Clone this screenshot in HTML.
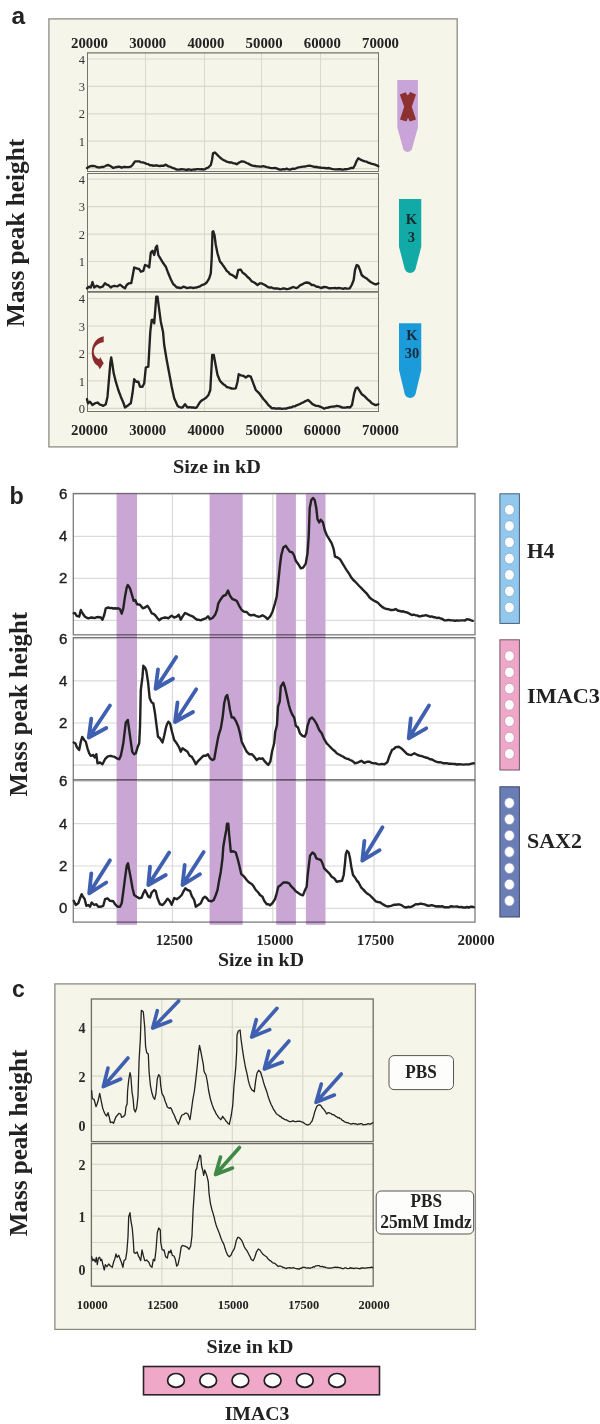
<!DOCTYPE html>
<html><head><meta charset="utf-8"><style>
html,body{margin:0;padding:0;background:#ffffff;}
svg{display:block;will-change:transform;}
</style></head><body>
<svg width="600" height="1424" viewBox="0 0 600 1424">
<rect width="600" height="1424" fill="#ffffff"/>
<rect x="48.9" y="18.9" width="408.3" height="428" fill="#f5f5e9" stroke="#8c8c84" stroke-width="1.3"/>
<text x="11.5" y="24.2" font-family="Liberation Sans, sans-serif" font-size="24.5" font-weight="bold" text-anchor="start" fill="#222222" >a</text>
<text x="89.5" y="47.5" font-family="Liberation Serif, serif" font-size="15" font-weight="bold" text-anchor="middle" fill="#222222" textLength="37" lengthAdjust="spacingAndGlyphs" >20000</text>
<text x="89.5" y="434.5" font-family="Liberation Serif, serif" font-size="15" font-weight="bold" text-anchor="middle" fill="#222222" textLength="37" lengthAdjust="spacingAndGlyphs" >20000</text>
<text x="147.7" y="47.5" font-family="Liberation Serif, serif" font-size="15" font-weight="bold" text-anchor="middle" fill="#222222" textLength="37" lengthAdjust="spacingAndGlyphs" >30000</text>
<text x="147.7" y="434.5" font-family="Liberation Serif, serif" font-size="15" font-weight="bold" text-anchor="middle" fill="#222222" textLength="37" lengthAdjust="spacingAndGlyphs" >30000</text>
<text x="205.9" y="47.5" font-family="Liberation Serif, serif" font-size="15" font-weight="bold" text-anchor="middle" fill="#222222" textLength="37" lengthAdjust="spacingAndGlyphs" >40000</text>
<text x="205.9" y="434.5" font-family="Liberation Serif, serif" font-size="15" font-weight="bold" text-anchor="middle" fill="#222222" textLength="37" lengthAdjust="spacingAndGlyphs" >40000</text>
<text x="264.1" y="47.5" font-family="Liberation Serif, serif" font-size="15" font-weight="bold" text-anchor="middle" fill="#222222" textLength="37" lengthAdjust="spacingAndGlyphs" >50000</text>
<text x="264.1" y="434.5" font-family="Liberation Serif, serif" font-size="15" font-weight="bold" text-anchor="middle" fill="#222222" textLength="37" lengthAdjust="spacingAndGlyphs" >50000</text>
<text x="322.3" y="47.5" font-family="Liberation Serif, serif" font-size="15" font-weight="bold" text-anchor="middle" fill="#222222" textLength="37" lengthAdjust="spacingAndGlyphs" >60000</text>
<text x="322.3" y="434.5" font-family="Liberation Serif, serif" font-size="15" font-weight="bold" text-anchor="middle" fill="#222222" textLength="37" lengthAdjust="spacingAndGlyphs" >60000</text>
<text x="380.5" y="47.5" font-family="Liberation Serif, serif" font-size="15" font-weight="bold" text-anchor="middle" fill="#222222" textLength="37" lengthAdjust="spacingAndGlyphs" >70000</text>
<text x="380.5" y="434.5" font-family="Liberation Serif, serif" font-size="15" font-weight="bold" text-anchor="middle" fill="#222222" textLength="37" lengthAdjust="spacingAndGlyphs" >70000</text>
<line x1="145.5" y1="52.9" x2="145.5" y2="171.5" stroke="#d9d9cc" stroke-width="1"/>
<line x1="204.5" y1="52.9" x2="204.5" y2="171.5" stroke="#d9d9cc" stroke-width="1"/>
<line x1="261.5" y1="52.9" x2="261.5" y2="171.5" stroke="#d9d9cc" stroke-width="1"/>
<line x1="320.5" y1="52.9" x2="320.5" y2="171.5" stroke="#d9d9cc" stroke-width="1"/>
<line x1="87.5" y1="168.6" x2="378.5" y2="168.6" stroke="#d9d9cc" stroke-width="1.2"/>
<line x1="87.5" y1="141.2" x2="378.5" y2="141.2" stroke="#d9d9cc" stroke-width="1.2"/>
<text x="85" y="145.79999999999998" font-family="Liberation Serif, serif" font-size="12.5" font-weight="normal" text-anchor="end" fill="#333333" >1</text>
<line x1="87.5" y1="113.8" x2="378.5" y2="113.8" stroke="#d9d9cc" stroke-width="1.2"/>
<text x="85" y="118.39999999999999" font-family="Liberation Serif, serif" font-size="12.5" font-weight="normal" text-anchor="end" fill="#333333" >2</text>
<line x1="87.5" y1="86.4" x2="378.5" y2="86.4" stroke="#d9d9cc" stroke-width="1.2"/>
<text x="85" y="91.0" font-family="Liberation Serif, serif" font-size="12.5" font-weight="normal" text-anchor="end" fill="#333333" >3</text>
<line x1="87.5" y1="59.0" x2="378.5" y2="59.0" stroke="#d9d9cc" stroke-width="1.2"/>
<text x="85" y="63.6" font-family="Liberation Serif, serif" font-size="12.5" font-weight="normal" text-anchor="end" fill="#333333" >4</text>
<line x1="87.5" y1="52.9" x2="87.5" y2="171.5" stroke="#74746c" stroke-width="1"/>
<line x1="378.5" y1="52.9" x2="378.5" y2="171.5" stroke="#74746c" stroke-width="1"/>
<line x1="87.0" y1="52.9" x2="379.0" y2="52.9" stroke="#74746c" stroke-width="1.2"/>
<line x1="87.0" y1="171.5" x2="379.0" y2="171.5" stroke="#74746c" stroke-width="1.2"/>
<line x1="145.5" y1="173.5" x2="145.5" y2="291.5" stroke="#d9d9cc" stroke-width="1"/>
<line x1="204.5" y1="173.5" x2="204.5" y2="291.5" stroke="#d9d9cc" stroke-width="1"/>
<line x1="261.5" y1="173.5" x2="261.5" y2="291.5" stroke="#d9d9cc" stroke-width="1"/>
<line x1="320.5" y1="173.5" x2="320.5" y2="291.5" stroke="#d9d9cc" stroke-width="1"/>
<line x1="87.5" y1="289.0" x2="378.5" y2="289.0" stroke="#d9d9cc" stroke-width="1.2"/>
<line x1="87.5" y1="261.5" x2="378.5" y2="261.5" stroke="#d9d9cc" stroke-width="1.2"/>
<text x="85" y="266.125" font-family="Liberation Serif, serif" font-size="12.5" font-weight="normal" text-anchor="end" fill="#333333" >1</text>
<line x1="87.5" y1="234.1" x2="378.5" y2="234.1" stroke="#d9d9cc" stroke-width="1.2"/>
<text x="85" y="238.65" font-family="Liberation Serif, serif" font-size="12.5" font-weight="normal" text-anchor="end" fill="#333333" >2</text>
<line x1="87.5" y1="206.6" x2="378.5" y2="206.6" stroke="#d9d9cc" stroke-width="1.2"/>
<text x="85" y="211.17499999999998" font-family="Liberation Serif, serif" font-size="12.5" font-weight="normal" text-anchor="end" fill="#333333" >3</text>
<line x1="87.5" y1="179.1" x2="378.5" y2="179.1" stroke="#d9d9cc" stroke-width="1.2"/>
<text x="85" y="183.7" font-family="Liberation Serif, serif" font-size="12.5" font-weight="normal" text-anchor="end" fill="#333333" >4</text>
<line x1="87.5" y1="173.5" x2="87.5" y2="291.5" stroke="#74746c" stroke-width="1"/>
<line x1="378.5" y1="173.5" x2="378.5" y2="291.5" stroke="#74746c" stroke-width="1"/>
<line x1="87.0" y1="173.5" x2="379.0" y2="173.5" stroke="#74746c" stroke-width="1.2"/>
<line x1="87.0" y1="291.5" x2="379.0" y2="291.5" stroke="#74746c" stroke-width="1.2"/>
<line x1="145.5" y1="292.1" x2="145.5" y2="411.5" stroke="#d9d9cc" stroke-width="1"/>
<line x1="204.5" y1="292.1" x2="204.5" y2="411.5" stroke="#d9d9cc" stroke-width="1"/>
<line x1="261.5" y1="292.1" x2="261.5" y2="411.5" stroke="#d9d9cc" stroke-width="1"/>
<line x1="320.5" y1="292.1" x2="320.5" y2="411.5" stroke="#d9d9cc" stroke-width="1"/>
<line x1="87.5" y1="408.4" x2="378.5" y2="408.4" stroke="#d9d9cc" stroke-width="1.2"/>
<text x="85" y="413.0" font-family="Liberation Serif, serif" font-size="12.5" font-weight="normal" text-anchor="end" fill="#333333" >0</text>
<line x1="87.5" y1="380.9" x2="378.5" y2="380.9" stroke="#d9d9cc" stroke-width="1.2"/>
<text x="85" y="385.525" font-family="Liberation Serif, serif" font-size="12.5" font-weight="normal" text-anchor="end" fill="#333333" >1</text>
<line x1="87.5" y1="353.4" x2="378.5" y2="353.4" stroke="#d9d9cc" stroke-width="1.2"/>
<text x="85" y="358.05" font-family="Liberation Serif, serif" font-size="12.5" font-weight="normal" text-anchor="end" fill="#333333" >2</text>
<line x1="87.5" y1="326.0" x2="378.5" y2="326.0" stroke="#d9d9cc" stroke-width="1.2"/>
<text x="85" y="330.57500000000005" font-family="Liberation Serif, serif" font-size="12.5" font-weight="normal" text-anchor="end" fill="#333333" >3</text>
<line x1="87.5" y1="298.5" x2="378.5" y2="298.5" stroke="#d9d9cc" stroke-width="1.2"/>
<text x="85" y="303.1" font-family="Liberation Serif, serif" font-size="12.5" font-weight="normal" text-anchor="end" fill="#333333" >4</text>
<line x1="87.5" y1="292.1" x2="87.5" y2="411.5" stroke="#74746c" stroke-width="1"/>
<line x1="378.5" y1="292.1" x2="378.5" y2="411.5" stroke="#74746c" stroke-width="1"/>
<line x1="87.0" y1="292.1" x2="379.0" y2="292.1" stroke="#74746c" stroke-width="1.2"/>
<line x1="87.0" y1="411.5" x2="379.0" y2="411.5" stroke="#74746c" stroke-width="1.2"/>
<text x="0" y="0" transform="translate(23.6,232.85) rotate(-90)" font-family="Liberation Serif, serif" font-size="26" font-weight="bold" text-anchor="middle" fill="#222222" textLength="188.09999999999997" lengthAdjust="spacingAndGlyphs">Mass peak height</text>
<text x="217" y="473" font-family="Liberation Serif, serif" font-size="19" font-weight="bold" text-anchor="middle" fill="#222222" textLength="88" lengthAdjust="spacingAndGlyphs" >Size in kD</text>
<path d="M397.3,80 L417.9,80 L417.9,127.5 L412.40000000000003,147.2 A4.8,4.8 0 0 1 402.8,147.2 L397.3,127.5 Z" fill="#c9a4d8"/>
<path d="M399.8,94.4 L405.6,92.2 L407.8,95.6 L410.2,92 L416,94.4 L411.8,106.8 L416,119.4 L409.8,121.4 L408,117.8 L406.4,121.4 L400,119.6 L404.2,106.8 Z" fill="#8c3030"/>
<path d="M399,199 L421.25,199 L421.25,246.7 L415.925,267.2 A5.8,5.8 0 0 1 404.325,267.2 L399,246.7 Z" fill="#12aaa6"/>
<text x="411.5" y="223.8" font-family="Liberation Serif, serif" font-size="14.5" font-weight="bold" text-anchor="middle" fill="#1a2a2a" >K</text>
<text x="411.3" y="242" font-family="Liberation Serif, serif" font-size="14.5" font-weight="bold" text-anchor="middle" fill="#1a2a2a" >3</text>
<path d="M399,323.3 L421.25,323.3 L421.25,370 L415.925,392.2 A5.8,5.8 0 0 1 404.325,392.2 L399,370 Z" fill="#1b9bd9"/>
<text x="412" y="339.6" font-family="Liberation Serif, serif" font-size="14.5" font-weight="bold" text-anchor="middle" fill="#1a2a3a" >K</text>
<text x="412" y="357.9" font-family="Liberation Serif, serif" font-size="14.5" font-weight="bold" text-anchor="middle" fill="#1a2a3a" >30</text>
<path d="M103.7,336.3 L103.7,342.2 C99,342.6 94.5,345.5 93.8,350.5 C93.3,354.8 96,357.8 99.3,359.3 L100.2,357 L103.7,363.3 L99.8,369.2 L98,366 C94,364 91.8,358.5 91.8,352.5 C91.8,343.5 97,337.5 103.7,336.3 Z" fill="#8b2b2b"/>
<text x="9.6" y="504.3" font-family="Liberation Sans, sans-serif" font-size="23.3" font-weight="bold" text-anchor="start" fill="#222222" >b</text>
<line x1="172.5" y1="493.5" x2="172.5" y2="634.8" stroke="#dadada" stroke-width="1.2"/>
<line x1="272.8" y1="493.5" x2="272.8" y2="634.8" stroke="#dadada" stroke-width="1.2"/>
<line x1="374.0" y1="493.5" x2="374.0" y2="634.8" stroke="#dadada" stroke-width="1.2"/>
<line x1="73.3" y1="620.4" x2="475.0" y2="620.4" stroke="#dadada" stroke-width="1.2"/>
<line x1="73.3" y1="578.4" x2="475.0" y2="578.4" stroke="#dadada" stroke-width="1.2"/>
<text x="67.4" y="583.4" font-family="Liberation Sans, sans-serif" font-size="15" font-weight="normal" text-anchor="end" fill="#1e1e1e" stroke="#1e1e1e" stroke-width="0.4">2</text>
<line x1="73.3" y1="536.4" x2="475.0" y2="536.4" stroke="#dadada" stroke-width="1.2"/>
<text x="67.4" y="541.4" font-family="Liberation Sans, sans-serif" font-size="15" font-weight="normal" text-anchor="end" fill="#1e1e1e" stroke="#1e1e1e" stroke-width="0.4">4</text>
<line x1="73.3" y1="494.4" x2="475.0" y2="494.4" stroke="#dadada" stroke-width="1.2"/>
<text x="67.4" y="499.4" font-family="Liberation Sans, sans-serif" font-size="15" font-weight="normal" text-anchor="end" fill="#1e1e1e" stroke="#1e1e1e" stroke-width="0.4">6</text>
<line x1="172.5" y1="637.6" x2="172.5" y2="779.8" stroke="#dadada" stroke-width="1.2"/>
<line x1="272.8" y1="637.6" x2="272.8" y2="779.8" stroke="#dadada" stroke-width="1.2"/>
<line x1="374.0" y1="637.6" x2="374.0" y2="779.8" stroke="#dadada" stroke-width="1.2"/>
<line x1="73.3" y1="765.2" x2="475.0" y2="765.2" stroke="#dadada" stroke-width="1.2"/>
<line x1="73.3" y1="723.0" x2="475.0" y2="723.0" stroke="#dadada" stroke-width="1.2"/>
<text x="67.4" y="728.0" font-family="Liberation Sans, sans-serif" font-size="15" font-weight="normal" text-anchor="end" fill="#1e1e1e" stroke="#1e1e1e" stroke-width="0.4">2</text>
<line x1="73.3" y1="680.8" x2="475.0" y2="680.8" stroke="#dadada" stroke-width="1.2"/>
<text x="67.4" y="685.8000000000001" font-family="Liberation Sans, sans-serif" font-size="15" font-weight="normal" text-anchor="end" fill="#1e1e1e" stroke="#1e1e1e" stroke-width="0.4">4</text>
<line x1="73.3" y1="638.6" x2="475.0" y2="638.6" stroke="#dadada" stroke-width="1.2"/>
<text x="67.4" y="643.6" font-family="Liberation Sans, sans-serif" font-size="15" font-weight="normal" text-anchor="end" fill="#1e1e1e" stroke="#1e1e1e" stroke-width="0.4">6</text>
<line x1="172.5" y1="779.8" x2="172.5" y2="922.1" stroke="#dadada" stroke-width="1.2"/>
<line x1="272.8" y1="779.8" x2="272.8" y2="922.1" stroke="#dadada" stroke-width="1.2"/>
<line x1="374.0" y1="779.8" x2="374.0" y2="922.1" stroke="#dadada" stroke-width="1.2"/>
<line x1="73.3" y1="908.3" x2="475.0" y2="908.3" stroke="#dadada" stroke-width="1.2"/>
<text x="67.4" y="913.3" font-family="Liberation Sans, sans-serif" font-size="15" font-weight="normal" text-anchor="end" fill="#1e1e1e" stroke="#1e1e1e" stroke-width="0.4">0</text>
<line x1="73.3" y1="866.0" x2="475.0" y2="866.0" stroke="#dadada" stroke-width="1.2"/>
<text x="67.4" y="871.0" font-family="Liberation Sans, sans-serif" font-size="15" font-weight="normal" text-anchor="end" fill="#1e1e1e" stroke="#1e1e1e" stroke-width="0.4">2</text>
<line x1="73.3" y1="823.7" x2="475.0" y2="823.7" stroke="#dadada" stroke-width="1.2"/>
<text x="67.4" y="828.6999999999999" font-family="Liberation Sans, sans-serif" font-size="15" font-weight="normal" text-anchor="end" fill="#1e1e1e" stroke="#1e1e1e" stroke-width="0.4">4</text>
<line x1="73.3" y1="781.4" x2="475.0" y2="781.4" stroke="#dadada" stroke-width="1.2"/>
<text x="67.4" y="786.4" font-family="Liberation Sans, sans-serif" font-size="15" font-weight="normal" text-anchor="end" fill="#1e1e1e" stroke="#1e1e1e" stroke-width="0.4">6</text>
<rect x="116.6" y="493.5" width="20.400000000000006" height="431.3" fill="#c9a6d3"/>
<rect x="209.6" y="493.5" width="33.099999999999994" height="431.3" fill="#c9a6d3"/>
<rect x="276.2" y="493.5" width="19.69999999999999" height="431.3" fill="#c9a6d3"/>
<rect x="305.9" y="493.5" width="19.600000000000023" height="431.3" fill="#c9a6d3"/>
<g style="mix-blend-mode:multiply">
<rect x="73.3" y="493.5" width="401.7" height="141.29999999999995" fill="none" stroke="#7c7c7c" stroke-width="1.3"/>
<rect x="73.3" y="637.6" width="401.7" height="142.19999999999993" fill="none" stroke="#7c7c7c" stroke-width="1.3"/>
<rect x="73.3" y="779.8" width="401.7" height="142.30000000000007" fill="none" stroke="#7c7c7c" stroke-width="1.3"/>
</g>
<text x="174.3" y="944.8" font-family="Liberation Serif, serif" font-size="15" font-weight="bold" text-anchor="middle" fill="#222222" textLength="37.3" lengthAdjust="spacingAndGlyphs" >12500</text>
<text x="274.9" y="944.8" font-family="Liberation Serif, serif" font-size="15" font-weight="bold" text-anchor="middle" fill="#222222" textLength="37.3" lengthAdjust="spacingAndGlyphs" >15000</text>
<text x="375.49999999999994" y="944.8" font-family="Liberation Serif, serif" font-size="15" font-weight="bold" text-anchor="middle" fill="#222222" textLength="37.3" lengthAdjust="spacingAndGlyphs" >17500</text>
<text x="476.09999999999997" y="944.8" font-family="Liberation Serif, serif" font-size="15" font-weight="bold" text-anchor="middle" fill="#222222" textLength="37.3" lengthAdjust="spacingAndGlyphs" >20000</text>
<text x="0" y="0" transform="translate(26.5,704.25) rotate(-90)" font-family="Liberation Serif, serif" font-size="26" font-weight="bold" text-anchor="middle" fill="#222222" textLength="184.5" lengthAdjust="spacingAndGlyphs">Mass peak height</text>
<text x="261" y="966" font-family="Liberation Serif, serif" font-size="19" font-weight="bold" text-anchor="middle" fill="#222222" textLength="86" lengthAdjust="spacingAndGlyphs" >Size in kD</text>
<rect x="499.9" y="493.8" width="19.5" height="129.59999999999997" fill="#92c8ee" stroke="#44607a" stroke-width="1"/>
<ellipse cx="509.4" cy="509.7" rx="4.9" ry="5.3" fill="#ffffff" stroke="#7aa6c8" stroke-width="0.7"/>
<ellipse cx="509.4" cy="526.0" rx="4.9" ry="5.3" fill="#ffffff" stroke="#7aa6c8" stroke-width="0.7"/>
<ellipse cx="509.4" cy="542.3" rx="4.9" ry="5.3" fill="#ffffff" stroke="#7aa6c8" stroke-width="0.7"/>
<ellipse cx="509.4" cy="558.6" rx="4.9" ry="5.3" fill="#ffffff" stroke="#7aa6c8" stroke-width="0.7"/>
<ellipse cx="509.4" cy="574.9" rx="4.9" ry="5.3" fill="#ffffff" stroke="#7aa6c8" stroke-width="0.7"/>
<ellipse cx="509.4" cy="591.2" rx="4.9" ry="5.3" fill="#ffffff" stroke="#7aa6c8" stroke-width="0.7"/>
<ellipse cx="509.4" cy="607.5" rx="4.9" ry="5.3" fill="#ffffff" stroke="#7aa6c8" stroke-width="0.7"/>
<rect x="499.9" y="639.8" width="19.5" height="130.20000000000005" fill="#efa7c9" stroke="#74556a" stroke-width="1"/>
<ellipse cx="509.4" cy="656.0" rx="4.9" ry="5.3" fill="#ffffff" stroke="#c48aa6" stroke-width="0.7"/>
<ellipse cx="509.4" cy="672.3" rx="4.9" ry="5.3" fill="#ffffff" stroke="#c48aa6" stroke-width="0.7"/>
<ellipse cx="509.4" cy="688.6" rx="4.9" ry="5.3" fill="#ffffff" stroke="#c48aa6" stroke-width="0.7"/>
<ellipse cx="509.4" cy="704.9" rx="4.9" ry="5.3" fill="#ffffff" stroke="#c48aa6" stroke-width="0.7"/>
<ellipse cx="509.4" cy="721.2" rx="4.9" ry="5.3" fill="#ffffff" stroke="#c48aa6" stroke-width="0.7"/>
<ellipse cx="509.4" cy="737.5" rx="4.9" ry="5.3" fill="#ffffff" stroke="#c48aa6" stroke-width="0.7"/>
<ellipse cx="509.4" cy="753.8" rx="4.9" ry="5.3" fill="#ffffff" stroke="#c48aa6" stroke-width="0.7"/>
<rect x="499.9" y="786.8" width="19.5" height="130.20000000000005" fill="#6a7db4" stroke="#3d4a6a" stroke-width="1"/>
<ellipse cx="509.4" cy="803.0" rx="4.9" ry="5.3" fill="#ffffff" stroke="#8090c0" stroke-width="0.7"/>
<ellipse cx="509.4" cy="819.3" rx="4.9" ry="5.3" fill="#ffffff" stroke="#8090c0" stroke-width="0.7"/>
<ellipse cx="509.4" cy="835.6" rx="4.9" ry="5.3" fill="#ffffff" stroke="#8090c0" stroke-width="0.7"/>
<ellipse cx="509.4" cy="851.9" rx="4.9" ry="5.3" fill="#ffffff" stroke="#8090c0" stroke-width="0.7"/>
<ellipse cx="509.4" cy="868.2" rx="4.9" ry="5.3" fill="#ffffff" stroke="#8090c0" stroke-width="0.7"/>
<ellipse cx="509.4" cy="884.5" rx="4.9" ry="5.3" fill="#ffffff" stroke="#8090c0" stroke-width="0.7"/>
<ellipse cx="509.4" cy="900.8" rx="4.9" ry="5.3" fill="#ffffff" stroke="#8090c0" stroke-width="0.7"/>
<text x="527" y="557.6" font-family="Liberation Serif, serif" font-size="21" font-weight="bold" text-anchor="start" fill="#222222" textLength="27.4" lengthAdjust="spacingAndGlyphs" >H4</text>
<text x="527" y="703" font-family="Liberation Serif, serif" font-size="21" font-weight="bold" text-anchor="start" fill="#222222" textLength="73" lengthAdjust="spacingAndGlyphs" >IMAC3</text>
<text x="527" y="848" font-family="Liberation Serif, serif" font-size="21" font-weight="bold" text-anchor="start" fill="#222222" textLength="55" lengthAdjust="spacingAndGlyphs" >SAX2</text>
<text x="12" y="997.4" font-family="Liberation Sans, sans-serif" font-size="23" font-weight="bold" text-anchor="start" fill="#222222" >c</text>
<rect x="54.9" y="983.9" width="420.5" height="345.5" fill="#f5f5e9" stroke="#8c8c84" stroke-width="1.3"/>
<line x1="161.85" y1="999" x2="161.85" y2="1141.6" stroke="#d9d9cc" stroke-width="1.2"/>
<line x1="232.29999999999998" y1="999" x2="232.29999999999998" y2="1141.6" stroke="#d9d9cc" stroke-width="1.2"/>
<line x1="302.75" y1="999" x2="302.75" y2="1141.6" stroke="#d9d9cc" stroke-width="1.2"/>
<line x1="91.4" y1="1125.4" x2="373.2" y2="1125.4" stroke="#d9d9cc" stroke-width="1.2"/>
<text x="85.6" y="1131.4" font-family="Liberation Serif, serif" font-size="14" font-weight="bold" text-anchor="end" fill="#2a2a2a" >0</text>
<line x1="91.4" y1="1076.2" x2="373.2" y2="1076.2" stroke="#d9d9cc" stroke-width="1.2"/>
<text x="85.6" y="1082.2" font-family="Liberation Serif, serif" font-size="14" font-weight="bold" text-anchor="end" fill="#2a2a2a" >2</text>
<line x1="91.4" y1="1027.0" x2="373.2" y2="1027.0" stroke="#d9d9cc" stroke-width="1.2"/>
<text x="85.6" y="1033.0" font-family="Liberation Serif, serif" font-size="14" font-weight="bold" text-anchor="end" fill="#2a2a2a" >4</text>
<rect x="91.4" y="999" width="281.79999999999995" height="142.5999999999999" fill="none" stroke="#6e6e66" stroke-width="1.3"/>
<line x1="161.85" y1="1143.6" x2="161.85" y2="1286.2" stroke="#d9d9cc" stroke-width="1.2"/>
<line x1="232.29999999999998" y1="1143.6" x2="232.29999999999998" y2="1286.2" stroke="#d9d9cc" stroke-width="1.2"/>
<line x1="302.75" y1="1143.6" x2="302.75" y2="1286.2" stroke="#d9d9cc" stroke-width="1.2"/>
<line x1="91.4" y1="1268.7" x2="373.2" y2="1268.7" stroke="#d9d9cc" stroke-width="1.2"/>
<text x="85.6" y="1274.7" font-family="Liberation Serif, serif" font-size="14" font-weight="bold" text-anchor="end" fill="#2a2a2a" >0</text>
<line x1="91.4" y1="1242.5" x2="373.2" y2="1242.5" stroke="#d9d9cc" stroke-width="1.2"/>
<line x1="91.4" y1="1216.2" x2="373.2" y2="1216.2" stroke="#d9d9cc" stroke-width="1.2"/>
<text x="85.6" y="1222.2" font-family="Liberation Serif, serif" font-size="14" font-weight="bold" text-anchor="end" fill="#2a2a2a" >1</text>
<line x1="91.4" y1="1190.5" x2="373.2" y2="1190.5" stroke="#d9d9cc" stroke-width="1.2"/>
<line x1="91.4" y1="1164.4" x2="373.2" y2="1164.4" stroke="#d9d9cc" stroke-width="1.2"/>
<text x="85.6" y="1170.4" font-family="Liberation Serif, serif" font-size="14" font-weight="bold" text-anchor="end" fill="#2a2a2a" >2</text>
<rect x="91.4" y="1143.6" width="281.79999999999995" height="142.60000000000014" fill="none" stroke="#6e6e66" stroke-width="1.3"/>
<text x="92.30000000000001" y="1309" font-family="Liberation Serif, serif" font-size="12.5" font-weight="bold" text-anchor="middle" fill="#222222" textLength="31" lengthAdjust="spacingAndGlyphs" >10000</text>
<text x="162.75" y="1309" font-family="Liberation Serif, serif" font-size="12.5" font-weight="bold" text-anchor="middle" fill="#222222" textLength="31" lengthAdjust="spacingAndGlyphs" >12500</text>
<text x="233.2" y="1309" font-family="Liberation Serif, serif" font-size="12.5" font-weight="bold" text-anchor="middle" fill="#222222" textLength="31" lengthAdjust="spacingAndGlyphs" >15000</text>
<text x="303.65" y="1309" font-family="Liberation Serif, serif" font-size="12.5" font-weight="bold" text-anchor="middle" fill="#222222" textLength="31" lengthAdjust="spacingAndGlyphs" >17500</text>
<text x="374.0999999999999" y="1309" font-family="Liberation Serif, serif" font-size="12.5" font-weight="bold" text-anchor="middle" fill="#222222" textLength="31" lengthAdjust="spacingAndGlyphs" >20000</text>
<text x="0" y="0" transform="translate(26.8,1142.9) rotate(-90)" font-family="Liberation Serif, serif" font-size="26" font-weight="bold" text-anchor="middle" fill="#222222" textLength="186.60000000000014" lengthAdjust="spacingAndGlyphs">Mass peak height</text>
<rect x="389" y="1055.6" width="64.5" height="34" rx="5" fill="#fdfdfb" stroke="#55554f" stroke-width="1"/>
<text x="421" y="1078" font-family="Liberation Serif, serif" font-size="18" font-weight="bold" text-anchor="middle" fill="#222222" textLength="31.5" lengthAdjust="spacingAndGlyphs" >PBS</text>
<rect x="376.2" y="1191" width="97.5" height="43" rx="5" fill="#fdfdfb" stroke="#55554f" stroke-width="1"/>
<text x="426.3" y="1207" font-family="Liberation Serif, serif" font-size="18" font-weight="bold" text-anchor="middle" fill="#222222" textLength="31.5" lengthAdjust="spacingAndGlyphs" >PBS</text>
<text x="426" y="1228" font-family="Liberation Serif, serif" font-size="18" font-weight="bold" text-anchor="middle" fill="#222222" textLength="91.7" lengthAdjust="spacingAndGlyphs" >25mM Imdz</text>
<text x="250" y="1353.3" font-family="Liberation Serif, serif" font-size="19" font-weight="bold" text-anchor="middle" fill="#222222" textLength="86.8" lengthAdjust="spacingAndGlyphs" >Size in kD</text>
<rect x="143.5" y="1366.5" width="236" height="28.3" fill="#f0a8c8" stroke="#2a2226" stroke-width="1.6"/>
<ellipse cx="176.0" cy="1380.4" rx="8.4" ry="6.9" fill="#ffffff" stroke="#1e1e1e" stroke-width="1.7"/>
<ellipse cx="208.2" cy="1380.4" rx="8.4" ry="6.9" fill="#ffffff" stroke="#1e1e1e" stroke-width="1.7"/>
<ellipse cx="240.4" cy="1380.4" rx="8.4" ry="6.9" fill="#ffffff" stroke="#1e1e1e" stroke-width="1.7"/>
<ellipse cx="272.6" cy="1380.4" rx="8.4" ry="6.9" fill="#ffffff" stroke="#1e1e1e" stroke-width="1.7"/>
<ellipse cx="304.8" cy="1380.4" rx="8.4" ry="6.9" fill="#ffffff" stroke="#1e1e1e" stroke-width="1.7"/>
<ellipse cx="337.0" cy="1380.4" rx="8.4" ry="6.9" fill="#ffffff" stroke="#1e1e1e" stroke-width="1.7"/>
<text x="257" y="1419.8" font-family="Liberation Serif, serif" font-size="19" font-weight="bold" text-anchor="middle" fill="#222222" textLength="64.7" lengthAdjust="spacingAndGlyphs" >IMAC3</text>
<polyline points="87.0,168.0 90.0,166.3 91.7,166.0 93.3,166.0 95.0,166.2 96.7,167.0 98.3,167.4 100.0,167.5 101.7,166.9 103.3,167.0 105.0,166.2 106.7,165.3 108.3,165.0 110.8,166.3 113.3,168.0 115.0,167.4 116.7,167.0 119.2,166.7 121.7,167.7 123.3,167.0 125.0,167.0 126.7,167.1 128.3,167.2 130.8,166.7 132.5,165.0 135.0,161.3 137.5,161.3 139.2,161.3 140.8,162.2 143.3,162.5 145.0,163.1 146.7,163.8 148.3,164.2 150.0,165.3 151.7,165.2 153.3,165.8 155.0,165.5 156.7,165.3 158.3,165.9 160.0,166.0 161.7,165.6 163.3,165.8 165.8,164.7 168.3,166.3 170.0,166.7 171.7,167.5 173.3,168.2 175.0,168.7 176.7,169.6 178.3,169.7 180.0,169.5 181.7,169.2 183.3,169.4 185.0,169.7 186.7,170.1 188.3,169.3 190.0,169.7 191.7,170.0 193.3,169.5 195.0,169.7 196.7,169.2 198.3,169.1 200.0,169.3 201.7,169.1 203.3,169.5 205.0,169.2 206.7,168.1 208.3,167.5 210.8,165.0 212.0,160.0 213.0,153.3 214.7,152.5 216.7,154.2 218.3,155.9 220.0,157.5 221.7,158.9 223.3,160.0 225.0,160.7 226.7,161.7 228.3,162.1 230.0,162.5 231.7,162.5 233.3,163.3 235.0,163.4 236.7,164.2 239.2,162.5 241.7,161.3 244.2,161.7 246.7,163.0 248.3,163.6 250.0,164.7 251.7,165.4 253.3,165.8 255.0,166.0 256.7,166.3 258.4,166.3 260.0,166.7 261.6,166.5 263.3,166.2 265.0,166.7 266.7,167.2 268.4,167.3 270.0,167.8 271.7,168.1 273.3,168.1 275.0,168.0 276.7,168.3 278.3,169.2 280.0,169.7 281.6,169.5 283.3,169.2 285.0,169.3 286.7,168.7 288.4,169.4 290.0,169.7 291.6,169.0 293.3,168.7 295.0,168.8 296.7,168.0 298.4,167.3 300.0,167.2 301.6,166.9 303.3,166.7 305.4,166.5 307.5,165.8 309.6,165.7 311.7,166.2 313.4,166.6 315.0,167.0 316.7,166.8 318.3,167.5 320.0,167.5 321.7,167.9 323.3,167.9 325.0,168.0 326.7,168.4 328.3,168.0 330.0,168.3 331.6,168.9 333.3,169.2 335.0,169.3 336.6,169.3 338.3,169.2 340.0,169.2 341.7,169.5 343.4,169.6 345.0,169.2 346.7,169.2 348.4,168.9 350.0,168.3 351.6,167.8 353.3,168.0 355.0,165.0 356.7,160.8 358.3,158.3 360.0,159.2 361.6,160.2 363.3,160.8 365.0,161.4 366.7,161.7 368.4,162.8 370.0,163.0 371.6,163.9 373.3,164.2 375.0,164.6 376.7,165.3 378.3,166.3" fill="none" stroke="#222222" stroke-width="2.35" stroke-linejoin="round" stroke-linecap="round" />
<polyline points="87.0,288.3 89.2,286.7 90.8,287.5 92.5,282.0 94.2,287.5 96.7,285.8 98.3,286.4 100.0,287.5 102.5,286.7 105.0,283.3 106.7,284.6 108.3,285.0 110.8,287.5 112.5,286.3 114.2,285.8 115.8,286.2 117.5,286.3 120.0,284.7 122.5,286.7 125.0,288.3 126.7,285.0 128.7,283.3 131.3,283.0 132.5,276.7 134.2,267.5 136.7,268.3 139.2,269.2 140.8,271.7 143.3,270.8 145.0,265.0 147.5,265.8 149.2,267.5 150.8,252.5 152.5,250.8 154.2,255.0 155.8,247.5 157.0,245.8 158.3,255.0 160.8,259.2 163.3,263.3 165.8,266.7 168.3,273.3 170.8,279.2 173.3,284.2 175.0,285.5 176.7,287.5 178.3,287.5 180.0,288.0 181.7,287.8 183.3,286.7 185.0,287.1 186.7,288.0 188.3,287.9 190.0,287.5 191.7,287.7 193.3,288.0 195.0,287.7 196.7,287.5 198.3,286.9 200.0,286.3 201.7,285.2 203.3,284.7 205.0,283.9 206.7,282.5 209.2,278.3 210.8,273.3 211.7,258.3 212.5,231.7 213.3,231.3 214.5,235.0 215.8,245.0 217.5,253.3 220.0,261.7 221.7,263.4 223.3,265.8 225.0,268.1 226.7,270.8 228.3,272.1 230.0,274.2 231.7,274.8 233.3,275.8 236.3,278.0 238.3,270.0 240.8,269.7 242.5,272.5 244.2,273.7 245.8,275.0 247.5,277.0 249.2,278.3 251.7,281.3 253.3,282.0 255.0,283.0 257.5,285.0 260.0,283.3 261.6,283.4 263.3,284.2 265.0,285.0 266.7,286.3 268.4,287.3 270.0,287.5 271.6,287.5 273.3,288.3 275.0,288.5 276.6,288.5 278.3,288.7 280.0,289.2 281.6,288.9 283.3,288.3 285.0,288.6 286.7,289.2 288.4,288.9 290.0,288.3 291.6,287.6 293.3,287.0 295.0,287.6 296.7,288.0 298.4,287.0 300.0,285.3 301.6,284.6 303.3,283.7 305.0,282.8 306.7,282.5 309.2,283.0 311.7,285.0 313.4,285.0 315.0,285.8 316.6,286.7 318.3,286.7 320.8,288.0 322.5,287.5 324.2,287.0 326.2,287.2 328.3,288.0 330.0,288.4 331.6,288.1 333.3,288.2 335.0,288.0 336.7,288.4 338.4,288.0 340.0,288.1 341.7,288.3 343.4,288.8 345.0,288.2 346.7,288.7 349.7,288.3 351.7,285.0 353.7,280.0 355.0,270.0 356.7,265.0 358.3,265.8 360.0,270.0 361.7,275.0 363.4,276.5 365.0,277.5 366.6,278.4 368.3,280.0 370.0,281.4 371.7,282.5 373.4,283.5 375.0,284.2 376.6,284.2 378.3,283.3" fill="none" stroke="#222222" stroke-width="2.35" stroke-linejoin="round" stroke-linecap="round" />
<polyline points="87.0,399.2 88.0,403.3 90.0,401.7 92.5,405.0 95.0,403.3 97.5,402.5 100.0,404.7 101.7,405.2 103.3,405.8 105.8,404.2 107.5,396.7 109.2,376.7 110.3,363.3 111.2,357.5 112.2,363.3 113.7,373.3 115.8,381.7 118.3,390.0 120.8,396.7 123.3,402.5 125.0,407.5 127.5,405.8 129.2,404.4 130.8,403.3 132.5,393.3 134.2,379.2 136.3,381.7 138.3,381.7 140.0,386.7 142.5,386.7 144.2,383.3 145.8,367.5 148.3,366.7 150.3,331.7 151.7,320.0 153.3,320.0 154.2,323.3 155.0,313.3 156.3,296.7 157.5,296.7 158.8,306.7 160.8,321.7 163.0,331.7 164.2,345.0 166.7,360.0 169.2,373.3 171.7,386.7 174.2,398.3 175.8,401.7 177.5,405.8 179.2,407.0 180.8,407.5 182.5,407.5 185.0,404.2 187.5,407.5 189.6,407.1 191.7,407.5 193.4,407.5 195.0,407.9 196.7,407.5 199.2,403.3 200.8,401.3 202.5,400.0 204.2,399.0 205.8,398.0 208.3,395.3 210.3,390.0 211.2,373.3 212.2,355.0 213.8,355.0 215.3,363.3 217.5,375.0 220.0,380.8 221.7,382.6 223.3,384.2 225.0,385.2 226.7,387.0 228.3,387.4 230.0,388.0 231.7,388.5 233.3,388.7 235.8,388.3 237.5,381.7 238.7,374.2 240.8,375.3 243.3,375.8 245.8,377.5 248.3,375.8 250.8,376.7 253.3,383.3 255.8,390.0 257.5,391.6 259.2,393.3 261.7,396.7 263.4,399.0 265.0,400.8 266.6,402.6 268.3,405.0 270.0,406.4 271.7,408.3 273.8,408.1 275.8,408.7 277.9,408.5 280.0,408.3 281.7,408.8 283.3,408.6 285.0,408.7 286.7,408.5 288.3,407.8 290.0,407.5 291.7,407.3 293.3,406.3 295.0,406.3 296.6,405.3 298.3,404.7 300.0,404.0 301.7,403.0 303.4,402.4 305.0,401.3 308.0,400.0 310.0,401.7 312.5,404.2 314.1,404.9 315.8,405.8 317.9,405.9 320.0,406.7 322.1,407.5 324.2,408.7 326.2,407.8 328.3,407.5 330.4,406.9 332.5,406.7 334.6,406.5 336.7,405.8 338.8,406.1 340.8,407.0 342.5,407.5 344.1,407.7 345.8,407.5 347.9,407.1 350.0,407.5 352.0,405.0 354.2,393.3 355.8,388.3 357.5,387.5 359.7,390.8 361.7,394.2 363.4,395.3 365.0,396.7 366.6,398.3 368.3,400.0 370.0,401.2 371.7,403.3 373.4,404.1 375.0,405.0 376.6,405.0 378.3,404.2" fill="none" stroke="#222222" stroke-width="2.35" stroke-linejoin="round" stroke-linecap="round" />
<polyline points="73.7,613.3 75.0,613.0 76.7,615.8 79.2,616.7 80.8,610.0 82.5,613.3 85.0,616.7 86.7,617.6 88.3,618.3 90.0,617.8 91.7,617.5 93.3,617.8 95.0,618.0 96.7,617.2 98.3,617.0 100.8,617.5 102.5,619.7 104.2,615.0 105.8,608.3 108.3,607.5 110.0,608.1 111.7,608.0 113.3,608.5 115.0,608.3 116.7,608.5 118.3,608.3 120.0,609.2 121.7,613.7 123.3,608.3 125.0,596.7 126.7,587.5 127.8,585.0 130.0,588.3 132.0,595.0 133.7,600.8 135.3,600.0 137.0,604.2 140.0,604.7 142.8,608.3 145.0,607.5 147.5,605.8 149.2,608.3 151.7,613.3 153.3,613.8 155.0,615.0 157.5,618.3 159.2,620.3 161.7,618.3 163.3,617.9 165.0,617.5 166.7,617.7 168.3,618.3 170.0,616.8 171.7,615.8 174.2,617.5 176.7,616.7 178.7,614.7 180.8,619.7 182.5,616.7 185.0,613.0 187.5,614.2 190.0,615.3 192.5,616.3 195.0,618.3 196.7,619.5 198.3,619.7 200.8,620.3 203.3,619.2 205.8,618.3 208.0,616.3 210.0,619.2 212.5,618.0 215.0,615.0 217.0,610.0 218.3,603.3 220.8,599.2 223.3,595.8 225.8,595.0 228.0,590.5 230.0,595.8 232.5,599.2 235.0,600.0 236.7,600.8 239.2,605.8 241.7,610.0 244.2,611.7 246.7,612.0 249.2,614.7 250.8,615.4 252.5,615.0 254.2,614.9 255.8,615.8 258.3,616.7 260.4,616.4 262.5,615.3 265.0,616.7 267.5,619.2 270.0,616.7 272.5,611.7 275.0,603.3 276.7,596.7 278.3,581.7 280.0,565.0 281.3,555.0 283.3,547.5 285.8,545.8 287.5,548.3 289.7,551.7 292.5,552.5 294.2,555.8 295.8,560.8 298.3,564.2 300.8,568.3 303.3,567.5 305.8,563.3 307.5,553.3 308.7,536.7 309.7,508.3 311.3,500.0 313.0,498.0 314.7,500.0 316.3,508.3 317.5,519.2 319.2,522.5 320.8,519.7 323.0,522.5 324.7,530.0 326.7,535.0 329.2,539.2 331.7,543.3 333.7,549.2 335.0,556.7 337.5,557.5 340.0,559.2 342.5,563.3 345.0,567.5 346.6,570.1 348.3,572.5 350.8,576.7 353.3,580.0 355.0,581.5 356.7,583.3 359.2,586.0 361.2,587.9 363.3,590.2 366.5,593.3 369.6,597.5 371.7,599.2 373.8,600.6 375.9,601.6 377.9,602.7 380.0,605.0 382.1,606.9 384.2,608.1 386.3,609.0 388.4,609.1 390.4,610.0 392.1,610.0 393.9,609.9 395.6,609.0 397.7,610.5 399.8,611.0 401.5,611.5 403.3,611.2 405.0,612.1 406.7,612.3 408.5,613.1 410.2,614.2 411.9,615.0 413.7,614.6 415.4,615.2 417.1,615.4 418.9,616.4 420.6,616.3 422.3,615.7 424.1,615.6 425.8,615.2 427.9,615.9 430.0,616.7 431.7,616.4 433.5,617.2 435.2,617.3 436.9,618.0 438.7,617.6 440.4,618.3 442.5,619.0 444.6,620.4 446.7,620.3 448.7,619.9 450.8,620.4 452.9,620.4 455.0,620.7 457.1,620.4 459.2,620.6 461.2,620.4 463.3,620.4 465.0,620.5 466.8,619.3 468.5,619.4 470.6,620.2 472.7,620.8" fill="none" stroke="#222222" stroke-width="2.4" stroke-linejoin="round" stroke-linecap="round" />
<polyline points="73.7,742.5 75.3,743.3 77.0,747.5 79.2,750.0 80.8,741.7 82.2,737.0 84.2,740.0 85.8,741.7 87.5,748.3 89.2,753.3 90.8,755.8 93.3,755.0 94.7,757.5 96.3,754.2 97.5,763.3 100.0,762.5 102.5,764.2 105.0,759.2 107.5,756.7 109.2,756.2 110.8,755.8 112.5,756.3 114.2,756.7 116.7,758.3 119.2,759.2 120.8,755.8 122.0,750.0 123.3,743.3 124.7,731.7 125.8,722.5 127.8,720.0 129.2,730.0 130.8,741.7 132.2,751.7 134.2,754.2 135.8,753.3 137.5,747.5 139.2,743.3 140.0,726.7 140.8,690.0 142.5,676.7 143.3,665.8 145.0,667.5 146.3,670.8 148.0,681.7 149.7,698.3 151.7,702.5 153.3,703.3 155.0,713.3 156.7,726.7 158.0,736.7 160.0,738.3 162.5,742.5 164.2,735.8 165.8,728.3 166.7,725.0 168.3,721.7 170.0,723.3 172.0,731.7 174.2,740.0 176.7,743.3 179.2,747.5 180.8,751.7 182.5,748.3 185.0,750.0 187.5,751.7 189.7,755.8 191.7,756.7 194.2,760.8 195.8,764.2 198.3,760.8 200.8,758.3 203.3,755.8 205.8,755.8 208.0,754.2 210.0,758.3 212.5,760.0 214.2,759.2 215.8,750.0 218.0,738.3 219.2,733.3 220.8,728.3 222.5,718.3 224.2,703.3 225.8,696.7 227.2,695.0 228.7,701.7 230.0,710.0 231.7,717.5 233.7,717.5 235.8,720.8 238.3,726.7 240.0,733.3 241.7,741.7 244.2,746.7 246.7,751.7 249.2,754.2 251.7,754.2 254.2,756.7 256.7,760.0 259.2,758.3 260.9,758.8 262.5,758.3 265.0,761.7 266.6,763.3 268.3,765.0 270.3,761.7 272.0,751.7 274.2,743.3 275.3,731.7 277.0,725.0 278.0,706.7 279.7,701.7 280.8,686.7 282.0,684.7 283.3,682.5 285.0,687.5 286.7,695.0 288.7,704.2 290.3,710.0 292.5,715.0 294.2,717.5 295.8,725.8 298.0,727.5 300.0,733.3 302.5,735.8 304.7,736.7 306.3,733.3 307.5,725.8 309.7,719.2 312.0,717.5 314.2,720.0 316.7,724.2 319.2,730.0 321.7,733.3 324.2,739.2 326.7,743.3 328.4,745.0 330.0,746.7 331.6,748.4 333.3,750.0 335.0,751.3 336.7,753.3 338.4,754.2 340.0,755.0 341.6,756.0 343.3,756.7 345.0,758.0 346.7,758.7 348.4,758.9 350.0,760.0 351.6,760.6 353.3,761.7 355.0,763.3 358.1,762.3 361.3,760.8 364.4,762.9 367.5,761.7 369.6,761.8 371.7,762.9 373.8,763.4 375.8,763.3 377.9,764.1 380.0,764.4 382.1,763.9 384.2,764.4 387.3,762.3 389.4,756.0 392.1,749.8 393.9,749.0 395.6,747.1 398.8,746.7 401.9,748.8 405.0,751.9 406.9,753.8 408.8,754.6 411.3,755.0 414.4,753.3 417.5,755.0 419.6,755.7 421.7,756.0 423.8,756.9 425.8,757.5 427.9,758.0 430.0,759.2 432.1,759.5 434.2,760.8 436.2,761.6 438.3,762.3 440.0,762.1 441.8,762.6 443.5,763.3 445.3,763.2 447.0,763.1 448.8,763.8 450.9,763.8 452.9,763.9 455.0,764.0 457.1,764.5 459.2,764.3 461.3,764.4 463.4,764.6 465.4,764.4 467.5,764.4 469.6,764.2 471.7,763.6 473.8,763.3" fill="none" stroke="#222222" stroke-width="2.4" stroke-linejoin="round" stroke-linecap="round" />
<polyline points="73.7,900.8 75.8,905.0 78.3,903.3 80.0,898.3 81.7,894.2 83.0,896.7 84.7,899.2 86.3,905.8 88.3,905.0 90.0,906.7 91.7,902.5 94.2,905.0 96.3,904.2 98.3,906.7 100.8,906.7 103.3,905.8 105.0,899.2 107.5,898.3 110.0,900.8 111.7,901.0 113.3,901.3 115.0,904.2 117.5,906.7 120.0,906.7 121.7,903.3 123.3,891.7 125.0,878.3 126.7,865.8 128.0,863.3 129.2,870.0 130.8,878.3 132.5,888.3 134.2,895.0 136.7,896.7 139.2,898.3 141.7,897.5 143.3,893.3 145.0,890.0 146.7,893.3 148.3,896.7 150.0,897.5 151.7,892.5 154.2,890.0 155.8,891.3 157.5,898.3 160.0,904.2 162.5,905.0 164.2,903.3 165.8,901.2 167.5,898.7 169.7,900.8 171.7,904.7 174.2,898.0 176.7,899.2 179.2,897.5 181.7,895.0 183.3,891.7 185.3,888.3 187.5,890.0 190.0,890.8 191.7,895.8 194.2,900.0 195.8,906.7 198.3,905.0 200.8,903.3 203.0,898.3 205.0,896.7 206.7,898.0 208.7,900.8 211.7,901.3 213.7,900.0 215.8,895.0 217.5,890.0 219.2,880.0 220.8,871.7 222.5,858.3 223.3,846.7 225.0,836.7 226.3,830.0 227.0,823.7 228.3,823.7 229.2,835.0 230.8,851.7 233.3,851.3 235.8,852.5 237.5,858.3 239.2,865.0 241.3,874.2 244.2,876.7 246.7,880.0 248.3,881.7 250.0,883.0 251.7,884.0 253.3,885.8 255.8,890.0 258.3,892.5 260.0,895.0 262.5,896.7 264.2,900.8 266.7,904.2 268.4,904.2 270.0,905.3 272.5,903.0 275.0,899.2 276.7,893.3 278.3,886.7 280.8,885.0 283.3,882.5 285.0,882.4 286.7,882.5 289.2,883.3 290.8,885.8 293.3,888.3 295.8,891.3 298.3,893.0 300.8,894.7 303.0,895.3 304.7,890.8 306.7,886.7 307.5,876.7 308.7,866.7 310.0,855.8 312.5,852.5 314.7,854.2 316.3,858.3 318.3,859.2 320.8,860.0 322.5,863.3 324.2,868.3 326.7,870.8 329.2,873.3 331.7,876.7 334.2,878.3 336.7,881.7 339.2,881.3 342.0,880.8 343.7,875.0 345.0,863.3 345.8,854.2 347.0,850.8 348.7,852.5 350.0,858.3 351.3,866.7 353.0,875.0 355.0,877.5 357.5,881.7 358.1,881.5 361.3,887.7 363.4,889.6 365.4,891.9 367.5,893.8 369.6,895.0 372.7,898.1 375.8,901.3 377.9,902.0 380.0,902.3 383.1,904.4 385.2,905.6 387.3,906.5 389.0,906.2 390.8,905.9 392.5,905.4 394.2,904.7 396.0,904.7 397.7,904.4 399.8,904.5 401.9,905.4 403.9,906.9 406.0,907.5 408.1,906.8 410.2,907.1 412.3,906.4 414.4,905.0 416.1,904.1 417.9,904.4 419.6,903.8 421.3,903.8 423.1,904.1 424.8,904.4 426.9,905.5 429.0,905.8 430.7,905.3 432.5,905.3 434.2,905.8 436.3,906.5 438.3,906.3 440.4,906.5 442.5,906.3 444.6,907.4 446.7,907.1 448.8,907.4 450.8,906.3 452.9,906.5 455.0,906.6 457.1,906.5 459.2,907.1 461.3,907.0 463.3,907.5 465.4,907.5 467.1,907.0 468.8,907.6 470.4,906.8 472.1,906.8 473.8,907.1" fill="none" stroke="#222222" stroke-width="2.4" stroke-linejoin="round" stroke-linecap="round" />
<polyline points="91.7,1090.7 92.3,1098.7 94.0,1099.3 95.0,1102.7 96.0,1106.7 97.0,1104.2 98.0,1101.3 99.7,1093.3 101.3,1101.3 102.7,1108.0 103.7,1110.9 104.7,1113.3 105.7,1115.1 106.7,1116.0 108.0,1112.7 109.3,1117.3 110.4,1122.7 112.0,1122.0 113.6,1123.3 114.7,1120.0 116.0,1116.7 117.6,1115.0 118.9,1113.3 120.7,1114.0 121.6,1117.3 123.3,1116.7 125.1,1114.7 126.0,1106.7 127.1,1104.0 127.6,1090.7 128.7,1080.0 130.0,1072.7 130.9,1076.7 132.0,1092.0 133.1,1098.7 134.0,1109.3 135.3,1112.0 136.7,1108.0 138.0,1096.0 139.1,1060.0 140.3,1040.0 141.3,1010.4 142.3,1010.8 143.3,1012.0 144.7,1026.7 145.6,1046.7 146.7,1052.7 148.3,1054.0 149.1,1072.0 150.4,1085.3 152.0,1093.3 153.3,1097.3 154.7,1099.3 156.0,1093.3 157.3,1078.7 158.7,1074.7 160.0,1076.3 160.7,1085.7 162.0,1093.7 163.7,1096.3 165.3,1101.7 166.3,1104.0 167.3,1107.0 169.1,1108.3 170.7,1107.7 171.7,1109.6 172.7,1112.3 173.7,1114.0 174.7,1116.3 175.7,1118.9 176.7,1121.0 178.4,1124.3 180.0,1119.7 181.0,1116.9 182.0,1115.0 183.0,1114.7 184.0,1114.3 185.0,1113.3 186.0,1113.0 187.0,1113.4 188.0,1114.3 189.0,1116.9 190.0,1119.7 191.3,1111.0 192.7,1100.3 194.4,1091.0 196.0,1077.7 197.3,1065.7 198.7,1051.0 199.5,1045.4 200.7,1051.0 202.0,1057.7 203.3,1064.3 204.0,1071.0 205.0,1073.4 206.0,1075.0 207.3,1081.7 208.7,1091.0 210.4,1099.0 212.0,1104.3 213.0,1107.1 214.0,1109.7 215.0,1111.1 216.0,1113.7 217.3,1115.4 218.7,1117.7 219.7,1118.3 220.7,1119.7 221.7,1118.4 222.7,1116.3 223.7,1118.0 224.7,1119.0 225.7,1120.7 226.7,1121.7 228.0,1123.4 229.3,1124.3 230.3,1119.9 231.3,1115.0 232.7,1105.7 234.0,1085.7 235.7,1068.3 236.7,1051.0 237.0,1035.0 238.3,1031.0 240.1,1030.0 241.0,1039.0 242.3,1048.3 243.7,1057.7 245.4,1067.0 247.0,1073.7 248.3,1080.3 249.3,1084.2 250.3,1087.0 251.3,1089.0 252.3,1090.3 253.3,1090.7 254.3,1091.7 255.7,1080.3 257.0,1073.0 258.7,1070.3 260.6,1072.3 262.3,1077.7 263.5,1082.1 264.6,1085.7 265.8,1089.0 267.0,1092.3 268.0,1096.0 269.0,1099.0 270.0,1101.7 271.0,1104.3 272.4,1106.9 273.7,1109.7 275.0,1111.5 276.3,1113.7 277.4,1114.5 278.6,1115.2 279.7,1116.3 280.8,1116.5 281.9,1118.0 283.0,1118.3 284.1,1119.1 285.2,1119.8 286.3,1119.7 287.4,1120.6 288.6,1121.1 289.7,1121.7 291.0,1121.6 292.3,1121.0 293.4,1120.8 294.6,1121.7 295.7,1121.7 296.8,1121.5 297.9,1121.1 299.0,1121.4 300.1,1121.2 301.2,1121.8 302.3,1122.0 303.3,1122.4 304.3,1123.3 305.3,1124.0 306.6,1124.6 308.0,1125.0 309.0,1124.4 310.0,1124.0 311.0,1122.2 312.0,1121.3 313.3,1117.3 314.7,1112.0 315.7,1109.3 316.7,1106.7 317.7,1105.5 318.7,1105.0 319.7,1104.8 320.7,1105.3 322.4,1108.0 323.5,1109.0 324.7,1110.7 325.7,1112.2 326.7,1114.0 327.7,1112.8 328.7,1112.7 329.7,1113.2 330.7,1113.3 332.0,1114.5 333.3,1114.7 334.4,1115.2 335.6,1116.3 336.7,1116.7 337.8,1117.9 338.9,1117.5 340.0,1118.7 341.1,1118.9 342.2,1120.4 343.3,1120.7 344.4,1121.8 345.6,1122.2 346.7,1122.7 347.8,1122.6 348.9,1123.3 350.0,1123.7 351.1,1124.0 352.2,1123.9 353.3,1123.3 354.4,1124.0 355.6,1123.6 356.7,1124.3 357.7,1124.6 358.7,1123.8 359.7,1124.1 360.7,1123.7 361.8,1123.6 362.9,1124.9 364.0,1124.7 365.1,1124.6 366.2,1124.5 367.3,1124.0 368.4,1123.7 369.6,1124.1 370.7,1124.0 371.7,1123.4 372.7,1122.7" fill="none" stroke="#222222" stroke-width="1.3" stroke-linejoin="round" stroke-linecap="round" />
<polyline points="91.7,1256.7 92.7,1260.7 94.0,1259.3 95.3,1262.0 96.3,1257.3 97.3,1264.7 98.4,1258.0 99.7,1257.3 100.7,1260.7 101.7,1259.3 102.9,1264.7 104.3,1270.0 105.3,1264.7 106.9,1266.7 108.7,1264.0 110.4,1266.0 112.3,1267.3 113.6,1262.0 114.7,1259.3 116.0,1254.0 117.1,1257.3 118.7,1255.3 120.0,1258.7 121.3,1262.0 122.9,1267.3 124.0,1260.7 125.6,1259.3 126.9,1251.3 128.0,1236.7 128.7,1216.7 130.0,1212.7 130.9,1220.7 132.3,1228.7 133.3,1240.7 134.0,1252.7 135.7,1253.3 137.1,1252.0 138.7,1256.7 139.7,1258.2 140.7,1260.7 142.0,1250.0 143.3,1255.3 144.7,1260.7 145.7,1260.6 146.7,1260.0 147.7,1261.2 148.7,1262.0 150.4,1266.0 152.0,1267.3 153.3,1259.3 154.7,1260.7 156.0,1250.0 157.3,1232.7 158.7,1228.0 160.3,1230.0 160.7,1242.0 162.0,1249.3 163.0,1250.2 164.0,1250.0 165.6,1256.7 167.3,1258.0 168.7,1251.3 170.0,1252.7 170.9,1250.0 172.3,1255.3 174.0,1256.0 175.3,1259.3 176.7,1266.0 178.0,1264.7 179.7,1256.7 181.1,1247.3 182.4,1245.3 184.0,1246.0 185.0,1246.1 186.0,1246.7 187.3,1247.3 189.1,1249.3 190.7,1246.0 192.0,1235.3 193.1,1210.0 194.0,1196.7 194.9,1183.3 195.7,1170.0 196.8,1168.7 197.6,1162.7 198.7,1160.0 199.7,1155.1 200.7,1156.0 201.6,1166.0 202.7,1170.0 203.7,1175.3 204.7,1170.0 206.0,1173.3 207.3,1177.3 208.3,1182.0 209.1,1194.0 210.4,1203.3 212.0,1210.0 213.0,1213.1 214.0,1216.7 215.0,1221.0 216.0,1224.7 217.0,1227.5 218.0,1230.0 219.0,1232.4 220.0,1235.3 221.0,1238.2 222.0,1240.7 223.0,1242.6 224.0,1244.7 225.0,1248.3 226.0,1251.3 227.7,1255.3 229.3,1256.7 230.9,1255.3 232.7,1251.3 234.4,1248.7 235.7,1243.3 236.2,1240.8 237.8,1237.3 238.9,1237.4 240.1,1238.5 241.3,1239.9 242.5,1242.0 244.3,1246.7 245.5,1248.9 246.7,1250.2 247.8,1252.3 249.0,1254.8 250.2,1256.9 251.3,1259.5 253.2,1260.7 254.8,1257.2 256.5,1251.8 258.3,1249.0 260.2,1250.2 261.4,1252.3 262.5,1253.7 263.9,1255.0 265.3,1256.0 266.5,1256.7 267.6,1258.4 268.8,1259.5 270.0,1260.7 271.1,1261.1 272.3,1262.5 273.5,1263.2 274.6,1263.2 275.8,1264.2 277.0,1265.2 278.2,1266.5 279.4,1266.0 280.5,1266.1 281.7,1266.5 282.9,1267.6 284.0,1267.5 285.2,1268.1 286.4,1268.6 287.5,1267.8 288.6,1267.9 289.8,1267.7 291.0,1268.2 292.1,1268.1 293.3,1267.5 294.5,1268.1 295.7,1268.5 296.9,1268.9 298.0,1268.6 299.2,1269.3 300.4,1268.1 301.5,1268.3 302.7,1267.2 303.9,1267.4 305.0,1267.3 306.1,1267.8 307.3,1268.1 308.5,1267.7 309.6,1268.3 310.8,1267.8 312.0,1267.7 313.2,1266.7 314.4,1267.1 315.5,1265.8 316.7,1265.8 317.9,1265.7 319.0,1265.6 320.1,1266.6 321.3,1266.5 322.5,1266.3 323.6,1267.1 324.8,1266.9 326.0,1267.7 327.2,1267.8 328.4,1268.1 329.5,1268.0 330.7,1268.1 331.9,1267.8 333.0,1267.6 334.1,1267.3 335.3,1267.2 336.5,1267.5 337.7,1267.1 338.8,1267.7 340.0,1267.6 341.2,1268.1 342.4,1268.6 343.5,1268.7 344.7,1267.8 345.8,1267.9 347.0,1268.4 348.2,1268.6 349.3,1268.4 350.5,1267.6 351.6,1268.4 352.8,1268.1 354.0,1268.7 355.2,1268.1 356.3,1268.1 357.5,1268.4 358.7,1268.4 359.9,1268.9 361.0,1268.0 362.2,1268.0 363.3,1267.8 364.5,1268.1 365.7,1268.2 366.8,1267.9 368.0,1267.6 369.1,1267.6 370.3,1267.7 371.5,1267.1 372.7,1267.7" fill="none" stroke="#222222" stroke-width="1.3" stroke-linejoin="round" stroke-linecap="round" />
<path d="M110,705.5 L88.75,737.5 M91.25,718.75 L88.75,737.5 L106.25,728" fill="none" stroke="#3f5fb0" stroke-width="3.8" stroke-linecap="round" stroke-linejoin="round"/>
<path d="M176.25,657 L155.5,688.75 M158,669.5 L155.5,688.75 L173,678.75" fill="none" stroke="#3f5fb0" stroke-width="3.8" stroke-linecap="round" stroke-linejoin="round"/>
<path d="M196.25,689.25 L175,722 M177.5,702.5 L175,722 L193,712" fill="none" stroke="#3f5fb0" stroke-width="3.8" stroke-linecap="round" stroke-linejoin="round"/>
<path d="M429,705.4 L408.75,738.3 M410.8,718.5 L408.75,738.3 L426.25,728.3" fill="none" stroke="#3f5fb0" stroke-width="3.8" stroke-linecap="round" stroke-linejoin="round"/>
<path d="M110,860.3 L89.2,893.3 M91.3,873.3 L89.2,893.3 L106.3,882.5" fill="none" stroke="#3f5fb0" stroke-width="3.8" stroke-linecap="round" stroke-linejoin="round"/>
<path d="M169.2,852.5 L148.3,885 M150,866.7 L148.3,885 L165.8,875" fill="none" stroke="#3f5fb0" stroke-width="3.8" stroke-linecap="round" stroke-linejoin="round"/>
<path d="M203.7,852 L182.5,885 M184.7,865 L182.5,885 L200,874.2" fill="none" stroke="#3f5fb0" stroke-width="3.8" stroke-linecap="round" stroke-linejoin="round"/>
<path d="M382.5,827.3 L362.3,860.6 M364.4,840.8 L362.3,860.6 L379.6,850.2" fill="none" stroke="#3f5fb0" stroke-width="3.8" stroke-linecap="round" stroke-linejoin="round"/>
<path d="M128,1058 L103.3,1086.7 M108,1068 L103.3,1086.7 L120.7,1079" fill="none" stroke="#3f5fb0" stroke-width="3.6" stroke-linecap="round" stroke-linejoin="round"/>
<path d="M178.7,1001 L152.7,1028 M157.3,1010.7 L152.7,1028 L170.7,1021" fill="none" stroke="#3f5fb0" stroke-width="3.6" stroke-linecap="round" stroke-linejoin="round"/>
<path d="M277,1008.3 L251.7,1037 M256.3,1019.7 L251.7,1037 L269.7,1029.7" fill="none" stroke="#3f5fb0" stroke-width="3.6" stroke-linecap="round" stroke-linejoin="round"/>
<path d="M289,1041 L264.3,1069 M269,1051 L264.3,1069 L282.3,1062.3" fill="none" stroke="#3f5fb0" stroke-width="3.6" stroke-linecap="round" stroke-linejoin="round"/>
<path d="M341.3,1074 L316,1102.4 M321.3,1084 L316,1102.4 L334.4,1095" fill="none" stroke="#3f5fb0" stroke-width="3.6" stroke-linecap="round" stroke-linejoin="round"/>
<path d="M239.5,1147.5 L215.5,1174.5 M220.5,1157 L215.5,1174.5 L232.5,1168" fill="none" stroke="#3f8a46" stroke-width="3.6" stroke-linecap="round" stroke-linejoin="round"/>
</svg>
</body></html>
